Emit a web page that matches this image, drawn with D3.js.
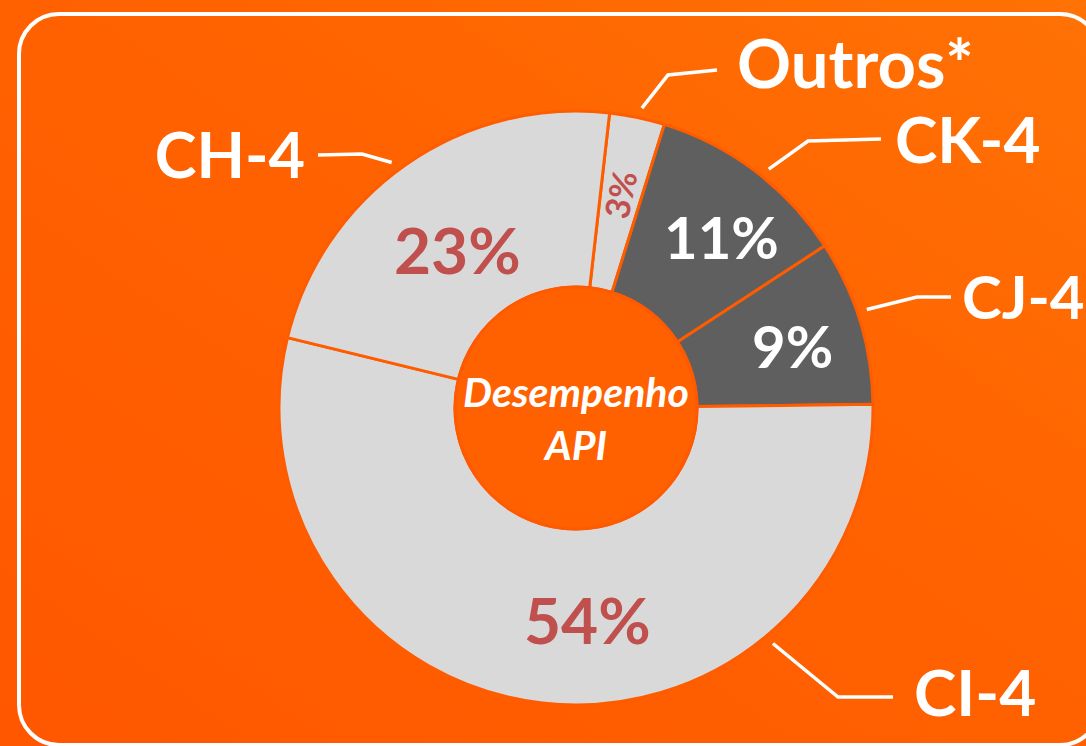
<!DOCTYPE html>
<html>
<head>
<meta charset="utf-8">
<script src="https://cdn.jsdelivr.net/npm/d3@7"></script>
<style>
  html, body { margin: 0; padding: 0; background: #ff5f00; }
  svg { display: block; }
</style>
</head>
<body>
<div id="chart"></div>
<script>
// Data
const categories = ["Outros*", "CK-4", "CJ-4", "CI-4", "CH-4"];
const shares = [3, 11, 9, 54, 23];
const sliceTone = ["light", "dark", "dark", "light", "light"];
const centerLines = ["Desempenho", "API"];

const W = 1086, H = 746;
const cx = 576, cy = 408, rOuter = 297, rInner = 121;

const colors = { light: "#d9d9d9", dark: "#5f5f5f" };
const pctColor = { light: "#c0504d", dark: "#ffffff" };

// Callout layout: leader start angle (deg), elbow and end points relative to centre
const callouts = [
  { a: 12.4, elbow: [92, -333], end: [141, -338], tx: 161, ty: -320, anchor: "start", fs: 67 },
  { a: 38.9, elbow: [232, -267], end: [305, -269], tx: 319, ty: -245, anchor: "start", fs: 64 },
  { a: 71.3, elbow: [341, -111], end: [375, -111], tx: 386, ty: -89, anchor: "start", fs: 60 },
  { a: 140.1, elbow: [262, 289], end: [317, 289], tx: 338, ty: 308, anchor: "start", fs: 64 },
  { a: 323.1, elbow: [-214, -254], end: [-258, -253], tx: -271, ty: -230, anchor: "end", fs: 63 }
];
// nudges of the percent labels from the slice centroid
const pctNudge = [[0, 0], [14, 4], [8, 2], [36, -4], [6, 22]];

const svg = d3.select("#chart").append("svg")
    .attr("width", W)
    .attr("height", H);

const defs = svg.append("defs");
const grad = defs.append("linearGradient")
    .attr("id", "bg")
    .attr("x1", "0").attr("y1", "1").attr("x2", "1").attr("y2", "0");
grad.append("stop").attr("offset", "0%").attr("stop-color", "#ff5700");
grad.append("stop").attr("offset", "60%").attr("stop-color", "#ff6300");
grad.append("stop").attr("offset", "100%").attr("stop-color", "#ff7205");

svg.append("rect")
    .attr("width", W).attr("height", H)
    .attr("fill", "url(#bg)");

svg.append("rect")
    .attr("x", 19).attr("y", 14)
    .attr("width", 1081).attr("height", 731)
    .attr("rx", 40).attr("ry", 40)
    .attr("fill", "none")
    .attr("stroke", "#ffffff")
    .attr("stroke-width", 4);

const data = categories.map((c, i) => ({ name: c, value: shares[i], tone: sliceTone[i], i }));

const startOffset = 6.5 * Math.PI / 180;
const pie = d3.pie()
    .value(d => d.value)
    .sort(null)
    .startAngle(startOffset)
    .endAngle(startOffset + 2 * Math.PI);

const arcs = pie(data);

const arc = d3.arc().innerRadius(rInner).outerRadius(rOuter);
const labelArc = d3.arc().innerRadius(218).outerRadius(218);

const g = svg.append("g").attr("transform", `translate(${cx},${cy})`);

g.selectAll("path.slice")
    .data(arcs)
    .enter().append("path")
    .attr("class", "slice")
    .attr("d", arc)
    .attr("fill", d => colors[d.data.tone])
    .attr("stroke", "#ff5c00")
    .attr("stroke-width", 3)
    .attr("stroke-linejoin", "round");

// centre disc
g.append("circle")
    .attr("r", rInner)
    .attr("fill", "#ff6000")
    .attr("stroke", "#ff5a00")
    .attr("stroke-width", 3);

// percent labels
g.selectAll("text.pct")
    .data(arcs)
    .enter().append("text")
    .attr("class", "pct")
    .attr("transform", d => {
        const [x, y] = labelArc.centroid(d);
        const n = pctNudge[d.data.i];
        if (d.data.value < 5) {
            const ang = (d.startAngle + d.endAngle) / 2 * 180 / Math.PI;
            return `translate(${x + n[0]},${y + n[1]}) rotate(${ang - 90})`;
        }
        return `translate(${x + n[0]},${y + n[1]})`;
    })
    .attr("text-anchor", "middle")
    .attr("dy", "0.36em")
    .attr("font-family", "Lato, 'Open Sans', sans-serif")
    .attr("font-weight", "bold")
    .attr("font-size", d => d.data.value < 5 ? 34 : (d.data.tone === "dark" ? 58 : 64))
    .attr("fill", d => pctColor[d.data.tone])
    .text(d => d.data.value + "%");

// leader lines and category labels
arcs.forEach((d, k) => {
    const c = callouts[k];
    const a = c.a * Math.PI / 180;
    const r0 = rOuter + 10;
    const start = [r0 * Math.sin(a), -r0 * Math.cos(a)];
    g.append("polyline")
        .attr("points", [start, c.elbow, c.end].map(p => p.join(",")).join(" "))
        .attr("fill", "none")
        .attr("stroke", "#ffffff")
        .attr("stroke-width", 3.5);
    g.append("text")
        .attr("x", c.tx)
        .attr("y", c.ty)
        .attr("text-anchor", c.anchor)
        .attr("font-family", "Lato, 'Open Sans', sans-serif")
        .attr("font-weight", "bold")
        .attr("font-size", c.fs)
        .attr("fill", "#ffffff")
        .text(d.data.name);
});

// centre text
g.selectAll("text.center")
    .data(centerLines)
    .enter().append("text")
    .attr("class", "center")
    .attr("x", 0)
    .attr("y", (d, i) => -1 + i * 53)
    .attr("text-anchor", "middle")
    .attr("font-family", "Lato, 'Open Sans', sans-serif")
    .attr("font-weight", "bold")
    .attr("font-style", "italic")
    .attr("font-size", 41)
    .attr("fill", "#ffffff")
    .text(d => d);
</script>
</body>
</html>
